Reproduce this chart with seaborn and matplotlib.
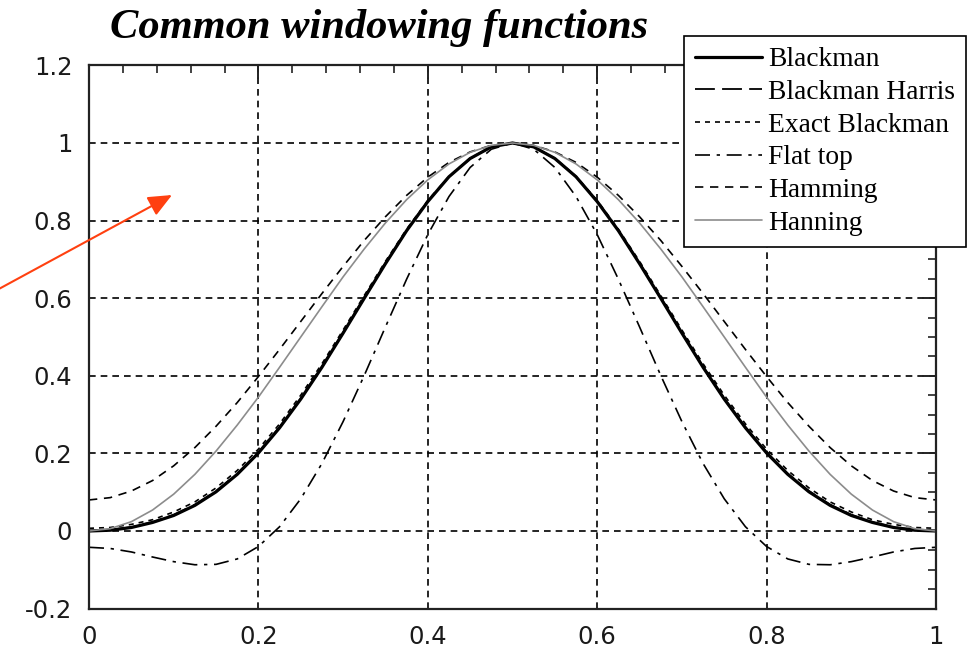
import numpy as np
import pandas as pd
import matplotlib
matplotlib.use("Agg")
import matplotlib.pyplot as plt
from matplotlib.ticker import MultipleLocator
import seaborn as sns

# ---- data (41 samples across the window) ----
x_pos = [0.000, 0.025, 0.050, 0.075, 0.100, 0.125, 0.150, 0.175, 0.200, 0.225,
         0.250, 0.275, 0.300, 0.325, 0.350, 0.375, 0.400, 0.425, 0.450, 0.475,
         0.500, 0.525, 0.550, 0.575, 0.600, 0.625, 0.650, 0.675, 0.700, 0.725,
         0.750, 0.775, 0.800, 0.825, 0.850, 0.875, 0.900, 0.925, 0.950, 0.975, 1.000]

blackman = [0.000, 0.002, 0.009, 0.022, 0.040, 0.066, 0.101, 0.146, 0.201, 0.266,
            0.340, 0.422, 0.510, 0.600, 0.689, 0.774, 0.849, 0.913, 0.960, 0.990,
            1.000, 0.990, 0.960, 0.913, 0.849, 0.774, 0.689, 0.600, 0.510, 0.422,
            0.340, 0.266, 0.201, 0.146, 0.101, 0.066, 0.040, 0.022, 0.009, 0.002, 0.000]

blackman_harris = [0.000, 0.003, 0.010, 0.023, 0.042, 0.068, 0.103, 0.148, 0.203, 0.268,
                   0.342, 0.424, 0.512, 0.602, 0.691, 0.775, 0.850, 0.913, 0.960, 0.990,
                   1.000, 0.990, 0.960, 0.913, 0.850, 0.775, 0.691, 0.602, 0.512, 0.424,
                   0.342, 0.268, 0.203, 0.148, 0.103, 0.068, 0.042, 0.023, 0.010, 0.003, 0.000]

exact_blackman = [0.007, 0.009, 0.017, 0.029, 0.049, 0.075, 0.111, 0.156, 0.211, 0.276,
                  0.350, 0.431, 0.518, 0.607, 0.695, 0.778, 0.852, 0.914, 0.961, 0.990,
                  1.000, 0.990, 0.961, 0.914, 0.852, 0.778, 0.695, 0.607, 0.518, 0.431,
                  0.350, 0.276, 0.211, 0.156, 0.111, 0.075, 0.049, 0.029, 0.017, 0.009, 0.007]

flat_top = [-0.042, -0.045, -0.054, -0.067, -0.079, -0.087, -0.086, -0.072, -0.040, 0.011,
            0.083, 0.174, 0.282, 0.401, 0.526, 0.649, 0.764, 0.862, 0.937, 0.984,
            1.000, 0.984, 0.937, 0.862, 0.764, 0.649, 0.526, 0.401, 0.282, 0.174,
            0.083, 0.011, -0.040, -0.072, -0.086, -0.087, -0.079, -0.067, -0.054, -0.045, -0.042]

hamming = [0.080, 0.086, 0.103, 0.130, 0.168, 0.215, 0.270, 0.331, 0.398, 0.468,
           0.540, 0.612, 0.682, 0.749, 0.810, 0.865, 0.912, 0.950, 0.977, 0.994,
           1.000, 0.994, 0.977, 0.950, 0.912, 0.865, 0.810, 0.749, 0.682, 0.612,
           0.540, 0.468, 0.398, 0.331, 0.270, 0.215, 0.168, 0.130, 0.103, 0.086, 0.080]

hanning = [0.000, 0.006, 0.024, 0.054, 0.095, 0.146, 0.206, 0.273, 0.345, 0.422,
           0.500, 0.578, 0.655, 0.727, 0.794, 0.854, 0.905, 0.946, 0.976, 0.994,
           1.000, 0.994, 0.976, 0.946, 0.905, 0.854, 0.794, 0.727, 0.655, 0.578,
           0.500, 0.422, 0.345, 0.273, 0.206, 0.146, 0.095, 0.054, 0.024, 0.006, 0.000]

series_names = ["Blackman", "Blackman Harris", "Exact Blackman", "Flat top", "Hamming", "Hanning"]
series_values = [blackman, blackman_harris, exact_blackman, flat_top, hamming, hanning]

x_ticks = [0, 0.2, 0.4, 0.6, 0.8, 1.0]
x_tick_labels = ["0", "0.2", "0.4", "0.6", "0.8", "1"]
y_ticks = [-0.2, 0, 0.2, 0.4, 0.6, 0.8, 1.0, 1.2]
y_tick_labels = ["-0.2", "0", "0.2", "0.4", "0.6", "0.8", "1", "1.2"]

title_text = "Common windowing functions"

# ---- styling ----
sns.set_style("white")
plt.rcParams["font.family"] = ["DejaVu Sans"]
plt.rcParams["text.color"] = "black"

styles = {
    "Blackman":        dict(color="black", lw=2.3, linestyle="-"),
    "Blackman Harris": dict(color="black", lw=1.3, linestyle=(0, (11, 4))),
    "Exact Blackman":  dict(color="black", lw=1.2, linestyle=(0, (3, 3))),
    "Flat top":        dict(color="black", lw=1.2, linestyle=(0, (9, 4, 2, 4))),
    "Hamming":         dict(color="black", lw=1.2, linestyle=(0, (5, 4))),
    "Hanning":         dict(color="#8c8c8c", lw=1.2, linestyle="-"),
}

fig = plt.figure(figsize=(9.7, 6.52), dpi=100)
fig.patch.set_facecolor("white")
ax = fig.add_axes([89 / 970, 1 - 608.6 / 652, (936 - 89) / 970, (608.6 - 65.4) / 652])
ax.set_facecolor("white")

df = pd.DataFrame({"x": x_pos})
for name, vals in zip(series_names, series_values):
    df[name] = vals

for name in series_names:
    sns.lineplot(data=df, x="x", y=name, ax=ax, label=name, legend=False, **styles[name])
handles = ax.get_lines()

ax.set_xlim(0, 1)
ax.set_ylim(-0.2, 1.2)
ax.set_xlabel("")
ax.set_ylabel("")
ax.set_xticks(x_ticks)
ax.set_xticklabels(x_tick_labels)
ax.set_yticks(y_ticks)
ax.set_yticklabels(y_tick_labels)
ax.xaxis.set_minor_locator(MultipleLocator(0.04))
ax.yaxis.set_minor_locator(MultipleLocator(0.05))
ax.tick_params(which="both", direction="in", top=True, right=True, color="#222222")
ax.tick_params(which="major", length=10, width=1.4, pad=12, labelsize=17.5, labelcolor="#1a1a1a")
ax.tick_params(which="minor", length=6, width=1.2)
for sp in ax.spines.values():
    sp.set_color("#222222")
    sp.set_linewidth(1.6)
    sp.set_visible(True)

ax.set_axisbelow(True)
ax.grid(True, which="major", color="black", linestyle=(0, (4, 3)), linewidth=1.2)

leg = fig.legend(handles=handles, labels=series_names, loc="upper left",
                 bbox_to_anchor=(684 / 970, 1 - 36 / 652), bbox_transform=fig.transFigure,
                 borderaxespad=0, frameon=True, fancybox=False, framealpha=1,
                 edgecolor="black", handlelength=2.45, handletextpad=0.2,
                 labelspacing=0.27, borderpad=0.4,
                 prop={"family": "Liberation Serif", "size": 19.8})
leg.get_frame().set_linewidth(1.2)

fig.text(379 / 970, 1 - 38 / 652, title_text, ha="center", va="baseline", color="black",
         family="Liberation Serif", weight="bold", style="italic", size=30.6)

ax.annotate("", xy=(172 / 970, 1 - 195 / 652), xytext=(-0.005, 1 - 291 / 652),
            xycoords="figure fraction", textcoords="figure fraction",
            arrowprops=dict(arrowstyle="-|>,head_length=0.8,head_width=0.35",
                            color="#FF4010", lw=1.5, shrinkA=0, shrinkB=0,
                            mutation_scale=18),
            annotation_clip=False)

fig.savefig("out.png", dpi=100)
